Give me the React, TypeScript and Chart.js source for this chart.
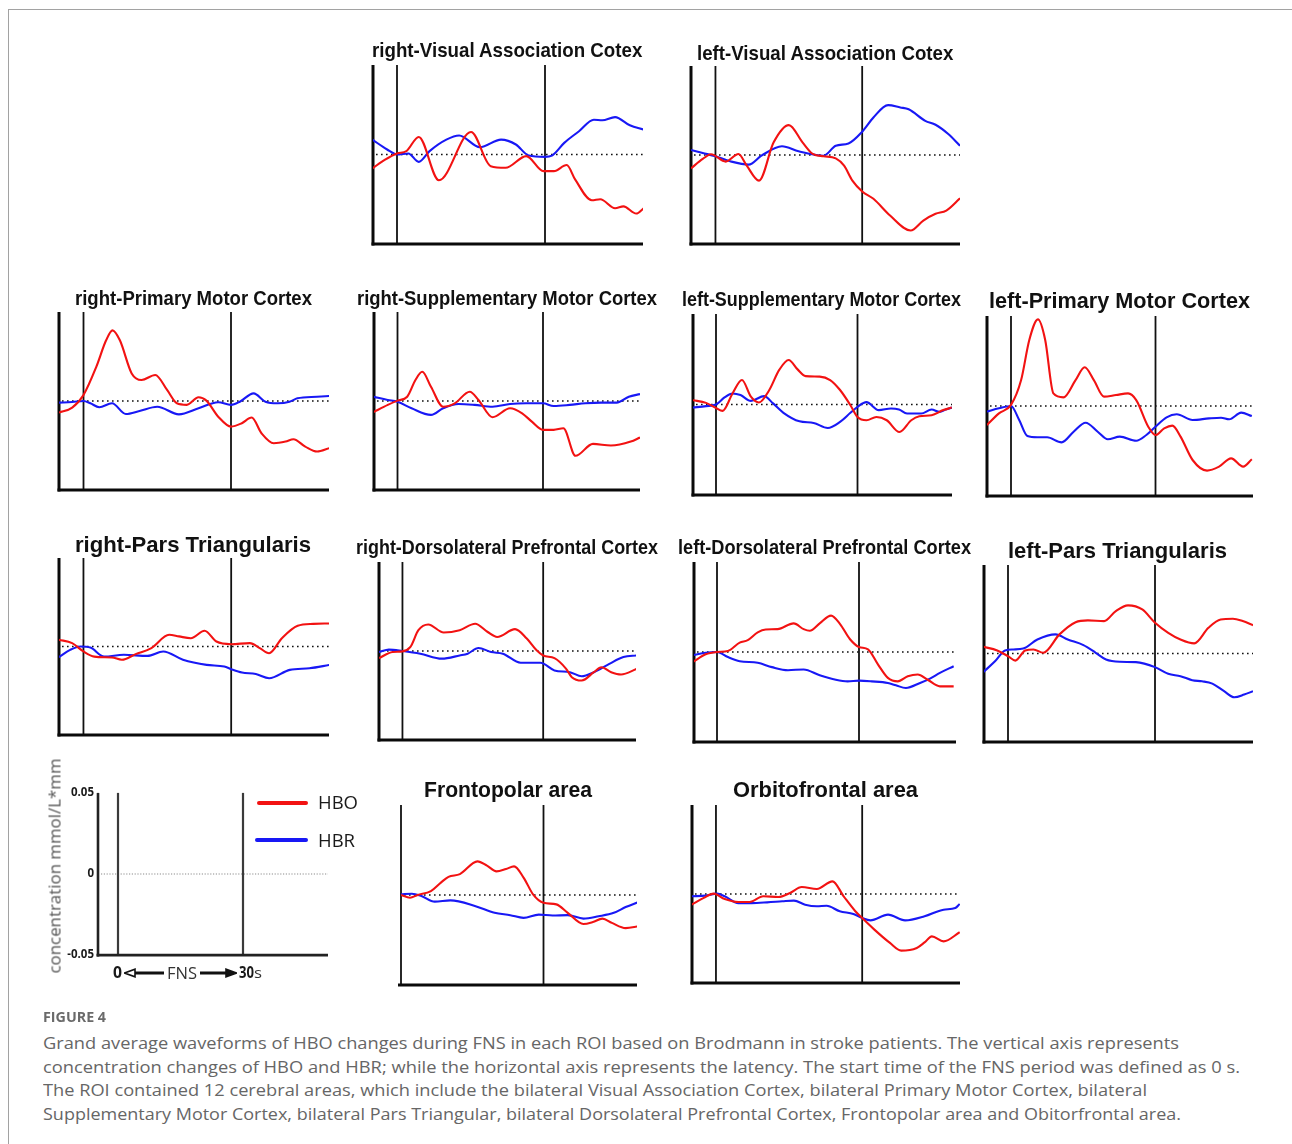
import React, { useEffect, useRef } from "react";
import { Chart, registerables } from "chart.js";

Chart.register(...registerables);

type Pt = [number, number];

// ---------------- data: [time (s), concentration (mmol/L*mm)] ----------------
const rVisHBO: Pt[] = [[-5,-0.0078],[-2.5,-0.003],[0,0.0006],[1.9,0.0019],[4.4,0.0098],[8.5,-0.0144],[15,0.0126],[19,-0.0065],[22,-0.0074],[26.2,-0.0009],[29.7,-0.0093],[31.8,-0.0093],[34.4,-0.0059],[36.1,-0.0139],[39.5,-0.0256],[41.2,-0.025],[44.2,-0.03],[45.9,-0.029],[48.5,-0.033],[50,-0.03]];
const rVisHBR: Pt[] = [[-5,0.0083],[-2,0.0028],[0,0],[2.3,0.0006],[4.4,-0.0041],[6.6,0.0019],[10,0.0083],[12.6,0.0106],[16.8,0.0041],[21.1,0.0083],[24.1,0.0056],[26.7,-0.0006],[30,-0.0013],[31.4,-0.0006],[33.9,0.0065],[36.9,0.013],[39.9,0.0194],[41.6,0.0191],[44.2,0.0209],[47.2,0.0163],[50,0.0139]];

const lVisHBO: Pt[] = [[-5,-0.0075],[-2.6,-0.0022],[-0.9,0.0004],[2.1,-0.0037],[4.7,0.0006],[6.4,-0.006],[8.9,-0.0144],[11.9,0.0071],[15,0.0168],[17.8,0.0071],[19.9,0.0006],[22.1,-0.0007],[24.6,-0.0019],[26.3,-0.006],[28,-0.0144],[30,-0.0205],[32.3,-0.0246],[35.7,-0.034],[39.9,-0.0424],[42.5,-0.0368],[45,-0.033],[47.2,-0.0312],[50,-0.0243]];
const lVisHBR: Pt[] = [[-5,0.0028],[-2.6,0.0011],[0,-0.0007],[3,-0.0035],[6.8,-0.0054],[9.4,-0.0004],[13.6,0.0049],[17,0.0021],[22.1,-0.0004],[24.6,0.0052],[27.2,0.0065],[30,0.0131],[32.3,0.0211],[35.3,0.028],[37.8,0.0267],[39.5,0.0257],[42.9,0.0192],[45,0.017],[47.6,0.0118],[50,0.0052]];

const rPMHBO: Pt[] = [[-5,-0.0065],[-2.3,-0.0037],[0,0.0034],[2.6,0.0192],[4.6,0.0341],[5.9,0.0397],[7.4,0.0341],[9.8,0.0155],[11.8,0.0118],[14.6,0.0146],[17,0.0062],[19,-0.0013],[21,-0.0022],[23.4,0.0021],[25,0.0002],[27.4,-0.0088],[30,-0.0144],[32.2,-0.0125],[34.2,-0.0093],[36.2,-0.0181],[38.7,-0.0237],[41.1,-0.0228],[42.7,-0.0215],[45.1,-0.0256],[47.5,-0.0284],[50,-0.0265]];
const rPMHBR: Pt[] = [[-5,-0.0009],[-2.3,-0.0006],[0,0],[1.4,-0.0013],[3.2,-0.0035],[5.8,-0.0013],[8.6,-0.0073],[11.4,-0.0056],[15,-0.0032],[19.4,-0.0075],[23.4,-0.0041],[27.4,-0.0007],[30,-0.0022],[31.8,-0.0004],[34.6,0.0043],[37,-0.0004],[39.5,-0.0013],[41.9,-0.0004],[43.5,0.0015],[47.5,0.0024],[50,0.0028]];

const rSMHBO: Pt[] = [[-5,-0.0063],[-2,-0.0022],[0,0.0002],[2,0.0024],[3.7,0.0118],[5.1,0.0164],[6.9,0.008],[9.4,-0.0032],[11.8,-0.0013],[14.9,0.0052],[16.7,0.0006],[19.6,-0.0091],[23.2,-0.0041],[25.7,-0.0069],[27.7,-0.0116],[30,-0.0162],[32.2,-0.0162],[34.2,-0.0153],[36.7,-0.0308],[40.3,-0.0241],[44,-0.025],[48.1,-0.0228],[50,-0.0205]];
const rSMHBR: Pt[] = [[-5,0.0024],[-2,0.0006],[0,-0.0004],[2.9,-0.0041],[6.9,-0.0078],[9.4,-0.0041],[12.6,-0.0017],[15.9,-0.0022],[19.6,-0.0032],[23.2,-0.0017],[26.5,-0.0013],[30,-0.0013],[32.2,-0.0028],[35.5,-0.0022],[38.7,-0.0013],[42,-0.0009],[45.2,-0.0009],[47.7,0.0024],[50,0.0039]];

const lSMHBO: Pt[] = [[-5,0.0024],[-2.1,0.0009],[0,-0.0019],[1.4,-0.0035],[3.5,0.0061],[5.5,0.0135],[7.4,0.0043],[9.1,0.0011],[11.3,0.008],[13.4,0.0191],[15.4,0.0246],[17.3,0.0194],[19,0.0157],[22,0.0154],[24.2,0.0135],[26.3,0.008],[28.5,-0.0004],[30,-0.0069],[31.9,-0.0087],[34,-0.0069],[36.2,-0.0087],[38.9,-0.0152],[41.4,-0.0087],[43.1,-0.0065],[45.7,-0.0059],[48.2,-0.0031],[50,-0.0017]];
const lSMHBR: Pt[] = [[-5,-0.0017],[-2.1,-0.0009],[0,0],[1.8,0.0039],[3.5,0.0061],[5.2,0.0052],[7.4,0.002],[10.2,0.0046],[12.1,0.0006],[14.3,-0.0046],[17.7,-0.0093],[20.7,-0.0102],[23.7,-0.013],[26.3,-0.0096],[28.5,-0.0046],[30,-0.0013],[31.9,0.0013],[34.5,-0.0031],[37.1,-0.0022],[38.8,-0.0028],[40.5,-0.005],[43.5,-0.005],[45.7,-0.0028],[47.4,-0.0041],[48.7,-0.0028],[50,-0.0017]];

const lPMHBO: Pt[] = [[-5,-0.0106],[-2.5,-0.0041],[0,0.0006],[2.1,0.0144],[3.8,0.0367],[5.6,0.0481],[7.1,0.0367],[8.8,0.007],[10.9,0.0048],[13.4,0.0144],[15.3,0.0215],[17.2,0.0144],[19.3,0.0052],[21.8,0.0061],[24.3,0.007],[26,0.0033],[28.5,-0.0115],[30,-0.0161],[31.8,-0.0124],[33.5,-0.0109],[35.2,-0.017],[37.7,-0.03],[40.7,-0.0359],[43.2,-0.0337],[45.7,-0.0291],[48.2,-0.0337],[50,-0.0296]];
const lPMHBR: Pt[] = [[-5,-0.0031],[-2.5,-0.0013],[0,0],[1.7,-0.0078],[3.4,-0.0167],[5.5,-0.0174],[7.5,-0.0174],[10.5,-0.0202],[13,-0.0143],[15.5,-0.0093],[18,-0.0143],[20.1,-0.0185],[22.6,-0.017],[26,-0.0193],[28.1,-0.0161],[30,-0.0115],[32.3,-0.0063],[34.4,-0.0046],[37.7,-0.0078],[41.1,-0.0069],[43.6,-0.0065],[45.3,-0.0074],[47.8,-0.0037],[50,-0.0056]];

const rPTHBO: Pt[] = [[-5,0.0038],[-2.3,0.0019],[0,-0.0028],[2.2,-0.0057],[5.8,-0.0062],[7.8,-0.0075],[10.6,-0.0043],[13.8,-0.0009],[17.4,0.0066],[19.4,0.0057],[21.8,0.0047],[24.6,0.0089],[27,0.0028],[30,0.0013],[33.8,0.0019],[35.8,-0.0009],[37.7,-0.0038],[40.3,0.0047],[43.5,0.0117],[46.7,0.0128],[50,0.013]];
const rPTHBR: Pt[] = [[-5,-0.006],[-2.7,-0.0019],[-0.6,0],[1.4,-0.0006],[4.2,-0.0057],[8.2,-0.0047],[13,-0.0053],[16.2,-0.0028],[20.2,-0.0075],[25,-0.0104],[28.6,-0.0113],[30,-0.0128],[32.2,-0.0147],[35,-0.0155],[37.7,-0.0179],[41.9,-0.0132],[45.9,-0.0123],[50,-0.0104]];

const rDLHBO: Pt[] = [[-5,-0.004],[-2.1,-0.0006],[0,-0.0002],[1.7,0.0023],[3.4,0.0117],[5.5,0.0149],[8.8,0.0104],[12.2,0.0117],[15.5,0.0153],[18.1,0.0108],[20.2,0.0079],[24,0.0123],[26.5,0.007],[28.6,0.0004],[30,-0.0025],[32.4,-0.004],[34.9,-0.01],[36.1,-0.0147],[38.2,-0.0166],[40.8,-0.0119],[42.4,-0.0091],[44.5,-0.0119],[46.6,-0.0132],[50,-0.01]];
const rDLHBR: Pt[] = [[-5,-0.0006],[-2.9,0.0008],[0,0],[3.8,-0.0015],[8.4,-0.0043],[12.2,-0.0025],[13.9,-0.0015],[16.2,0.0017],[18.9,-0.0006],[21.4,-0.0015],[25.2,-0.0066],[29.4,-0.0066],[32.4,-0.0109],[35.7,-0.0119],[38.2,-0.0142],[40.8,-0.0119],[44.1,-0.0072],[47.1,-0.0034],[50,-0.0025]];

const lDLHBO: Pt[] = [[-5,-0.0054],[-2.4,-0.0013],[0,0],[2.3,0.0006],[4.8,0.0052],[6.5,0.0066],[8.6,0.0109],[10.3,0.0125],[12.8,0.0127],[16.2,0.0159],[18.3,0.0127],[19.6,0.0118],[21.7,0.0159],[24.1,0.0202],[26,0.0155],[28.1,0.0071],[30,0.0028],[31.9,0.0015],[34,-0.0069],[36.1,-0.0144],[38.2,-0.0163],[40.3,-0.0135],[42.4,-0.0125],[44.5,-0.0154],[47.1,-0.0191],[50,-0.0191]];
const lDLHBR: Pt[] = [[-5,-0.0017],[-2.4,-0.0004],[0,0],[2.3,-0.0028],[4.8,-0.0051],[8.6,-0.006],[11.6,-0.0084],[15,-0.0101],[18.3,-0.0097],[21.7,-0.0129],[25.1,-0.0154],[27.6,-0.0163],[30,-0.0159],[32.7,-0.0163],[36.1,-0.0172],[37.8,-0.0185],[39.9,-0.02],[42.9,-0.0172],[45,-0.0148],[47.1,-0.0116],[50,-0.0079]];

const lPTHBO: Pt[] = [[-5,0.0038],[-2.2,0.0017],[0,-0.0015],[1.5,-0.004],[3.5,0.0017],[5.2,0.0023],[7.2,0.0004],[10.5,0.0108],[13.8,0.0177],[16.3,0.0187],[19.6,0.0183],[22,0.024],[24.5,0.0272],[27.4,0.0249],[30,0.0174],[32.7,0.0117],[35.2,0.0079],[38,0.0057],[40.9,0.0145],[43.4,0.0192],[45.9,0.0196],[47.9,0.0183],[50,0.016]];
const lPTHBR: Pt[] = [[-5,-0.0104],[-2.6,-0.0043],[-0.6,0.0017],[1.1,0.0023],[3.1,0.0028],[6,0.0079],[9.7,0.0108],[12.2,0.0079],[15.4,0.0047],[17.9,0.0004],[20,-0.0034],[22.8,-0.0047],[26.1,-0.0049],[30,-0.0077],[32.7,-0.0115],[35.2,-0.0128],[37.6,-0.0151],[39.6,-0.0157],[41.7,-0.017],[44.1,-0.0213],[46.2,-0.0247],[48.2,-0.0232],[50,-0.0213]];

const fpHBO: Pt[] = [[0,0],[1.9,-0.0015],[3.5,0],[6.3,0.0022],[8.4,0.0069],[10,0.0101],[12.4,0.0116],[16.1,0.0187],[18.1,0.0163],[20.1,0.0131],[22.1,0.0144],[23.8,0.0159],[25.8,0.0097],[27.8,0.0004],[30,-0.0043],[32.7,-0.0052],[35.1,-0.0099],[38.4,-0.0161],[40.4,-0.015],[42.4,-0.0131],[44.4,-0.0155],[47.3,-0.0184],[50,-0.0174]];
const fpHBR: Pt[] = [[0,0.0004],[2.3,0.0007],[4.3,-0.0006],[7.1,-0.0037],[10.4,-0.003],[15.7,-0.0062],[19.7,-0.0099],[23,-0.0112],[25.8,-0.0127],[29,-0.0109],[31.9,-0.0114],[35.1,-0.0112],[38.4,-0.0131],[41.6,-0.0118],[44.8,-0.0099],[47.3,-0.0067],[50,-0.0039]];

const ofHBO: Pt[] = [[-5,-0.006],[-2.5,-0.0022],[-0.5,0.0002],[1.8,-0.0028],[4.6,-0.0045],[6.9,-0.0045],[9.7,-0.0013],[12.8,-0.0017],[15.2,0.0006],[17.6,0.0039],[20.7,0.0028],[23.9,0.0071],[26.2,-0.0013],[28.6,-0.0097],[30,-0.0135],[32.5,-0.02],[35.7,-0.0275],[38,-0.0318],[41.2,-0.0303],[42.8,-0.0272],[44.3,-0.0238],[46.7,-0.0266],[50,-0.0215]];
const ofHBR: Pt[] = [[-5,-0.0013],[-2.1,-0.0009],[0.2,0.0002],[1.8,-0.0013],[4.6,-0.0051],[7.3,-0.0051],[10.5,-0.0047],[13.6,-0.0041],[16,-0.0037],[18.3,-0.006],[20.7,-0.0069],[22.7,-0.0066],[25.4,-0.0097],[28.2,-0.0112],[30,-0.0135],[31.7,-0.0148],[35.3,-0.0116],[38.8,-0.0148],[42.8,-0.0125],[46.7,-0.0088],[49.1,-0.0079],[50,-0.0056]];

const STIM_START = 0;
const STIM_END = 30;
const Y_MIN = -0.05;
const Y_MAX = 0.05;
const KEY_TICKS = [-0.05, 0, 0.05];

const CAPTION_LINES = [
  "Grand average waveforms of HBO changes during FNS in each ROI based on Brodmann in stroke patients. The vertical axis represents",
  "concentration changes of HBO and HBR; while the horizontal axis represents the latency. The start time of the FNS period was defined as 0 s.",
  "The ROI contained 12 cerebral areas, which include the bilateral Visual Association Cortex, bilateral Primary Motor Cortex, bilateral",
  "Supplementary Motor Cortex, bilateral Pars Triangular, bilateral Dorsolateral Prefrontal Cortex, Frontopolar area and Obitorfrontal area.",
];

// ---------------- layout & style ----------------
const HBO_COLOR = "#f21212";
const HBR_COLOR = "#1818f5";
const PAD = 8;

interface PanelSpec {
  title: string;
  hbo: Pt[];
  hbr: Pt[];
  left: number; onset: number; end: number; right: number; top: number; bottom: number;
  tx1: number; tx2: number; tcy: number; tsize: number;
  leftAxis: boolean;
}

const PANELS: PanelSpec[] = [
  { title: "right-Visual Association Cotex", hbo: rVisHBO, hbr: rVisHBR, left: 373, onset: 397, end: 545, right: 643, top: 65, bottom: 244, tx1: 372, tx2: 643, tcy: 50, tsize: 20.5, leftAxis: true },
  { title: "left-Visual Association Cotex", hbo: lVisHBO, hbr: lVisHBR, left: 690.5, onset: 715, end: 862, right: 960, top: 66, bottom: 244, tx1: 697, tx2: 954, tcy: 53, tsize: 20.5, leftAxis: true },
  { title: "right-Primary Motor Cortex", hbo: rPMHBO, hbr: rPMHBR, left: 59, onset: 83.5, end: 231, right: 329, top: 312, bottom: 490, tx1: 75, tx2: 312, tcy: 298, tsize: 20, leftAxis: true },
  { title: "right-Supplementary Motor Cortex", hbo: rSMHBO, hbr: rSMHBR, left: 374, onset: 397.5, end: 543, right: 640, top: 312, bottom: 490, tx1: 357, tx2: 657, tcy: 298, tsize: 20, leftAxis: true },
  { title: "left-Supplementary Motor Cortex", hbo: lSMHBO, hbr: lSMHBR, left: 693, onset: 716, end: 857.5, right: 952, top: 314, bottom: 495, tx1: 682, tx2: 961, tcy: 299.5, tsize: 19.5, leftAxis: true },
  { title: "left-Primary Motor Cortex", hbo: lPMHBO, hbr: lPMHBR, left: 987, onset: 1011, end: 1155.5, right: 1253, top: 316, bottom: 496, tx1: 989, tx2: 1250, tcy: 301, tsize: 22, leftAxis: true },
  { title: "right-Pars Triangularis", hbo: rPTHBO, hbr: rPTHBR, left: 58.5, onset: 83, end: 231, right: 329, top: 558, bottom: 735, tx1: 75, tx2: 311, tcy: 545, tsize: 22, leftAxis: true },
  { title: "right-Dorsolateral Prefrontal Cortex", hbo: rDLHBO, hbr: rDLHBR, left: 378.5, onset: 402, end: 543, right: 636, top: 562, bottom: 740, tx1: 356, tx2: 658, tcy: 548, tsize: 19.5, leftAxis: true },
  { title: "left-Dorsolateral Prefrontal Cortex", hbo: lDLHBO, hbr: lDLHBR, left: 694, onset: 717, end: 859, right: 956, top: 562, bottom: 742, tx1: 678, tx2: 971, tcy: 547.5, tsize: 19.5, leftAxis: true },
  { title: "left-Pars Triangularis", hbo: lPTHBO, hbr: lPTHBR, left: 983.5, onset: 1007.5, end: 1154.5, right: 1252.5, top: 565, bottom: 742, tx1: 1008, tx2: 1227, tcy: 551, tsize: 22, leftAxis: true },
  { title: "Frontopolar area", hbo: fpHBO, hbr: fpHBR, left: 401, onset: 401, end: 543.5, right: 637, top: 805, bottom: 985, tx1: 424, tx2: 592, tcy: 789.5, tsize: 22, leftAxis: false },
  { title: "Orbitofrontal area", hbo: ofHBO, hbr: ofHBR, left: 691.5, onset: 715.5, end: 862, right: 960, top: 805, bottom: 983, tx1: 733, tx2: 918, tcy: 790, tsize: 22, leftAxis: true },
];

const KEY = { left: 97.5, onset: 117.5, end: 242.5, right: 327.5, top: 790, bottom: 958 };
const KEY_AXIS_W = 44;

// ---------------- text helpers ----------------
const METRICS: Record<string, { asc: number; cap: number }> = {
  "Liberation Sans": { asc: 0.8465, cap: 0.716 },
  "Open Sans": { asc: 0.888, cap: 0.714 },
};
let measureCtx: CanvasRenderingContext2D | null = null;
function textWidth(text: string, font: string): number {
  if (!measureCtx) measureCtx = document.createElement("canvas").getContext("2d");
  measureCtx!.font = font;
  return measureCtx!.measureText(text).width;
}

function FitText(props: { text: string; x1: number; x2: number; cy: number; size: number; family: string; weight?: number; color?: string }) {
  const { text, x1, x2, cy, size, family, weight = 400, color = "#111" } = props;
  const m = METRICS[family];
  const w = textWidth(text, `${weight} ${size}px "${family}"`);
  const sx = (x2 - x1) / w;
  const top = cy + (m.cap * size) / 2 - m.asc * size;
  return (
    <div
      style={{
        position: "absolute", left: x1, top, fontFamily: `"${family}"`, fontSize: size, fontWeight: weight,
        lineHeight: `${size}px`, whiteSpace: "pre", color, transform: `scaleX(${sx})`, transformOrigin: "0 0",
      }}
    >
      {text}
    </div>
  );
}

function RotText(props: { text: string; cx: number; cy: number; len: number; size: number; family: string; color: string }) {
  const { text, cx, cy, len, size, family, color } = props;
  const w = textWidth(text, `400 ${size}px "${family}"`);
  const sx = len / w;
  return (
    <div
      style={{
        position: "absolute", left: cx, top: cy, fontFamily: `"${family}"`, fontSize: size, lineHeight: `${size}px`,
        whiteSpace: "pre", color, transform: `translate(-50%, -50%) rotate(-90deg) scaleX(${sx})`, transformOrigin: "50% 50%",
      }}
    >
      {text}
    </div>
  );
}

// ---------------- chart helpers ----------------
function framePlugin(leftAxis: boolean, key: boolean) {
  return {
    id: "frame",
    beforeDatasetsDraw(chart: any) {
      const { ctx } = chart;
      const x = chart.scales.x;
      const y = chart.scales.y;
      const xl = x.getPixelForValue(x.min);
      const xr = x.getPixelForValue(x.max);
      const yt = y.getPixelForValue(Y_MAX);
      const yb = y.getPixelForValue(Y_MIN);
      const y0 = y.getPixelForValue(0);
      ctx.save();
      // zero reference (dotted)
      ctx.strokeStyle = key ? "#8c8c8c" : "#111";
      ctx.lineWidth = key ? 1.2 : 1.6;
      ctx.setLineDash(key ? [1.2, 1.6] : [1.6, 3.4]);
      ctx.beginPath();
      ctx.moveTo(xl + 3, y0);
      ctx.lineTo(xr, y0);
      ctx.stroke();
      ctx.setLineDash([]);
      // stimulation onset / offset
      ctx.strokeStyle = key ? "#3a3a3a" : "#111";
      ctx.lineWidth = key ? 2.2 : 1.8;
      for (const t of [STIM_START, STIM_END]) {
        const px = x.getPixelForValue(t);
        ctx.beginPath();
        ctx.moveTo(px, yt);
        ctx.lineTo(px, yb);
        ctx.stroke();
      }
      // axes
      ctx.strokeStyle = key ? "#222" : "#0a0a0a";
      ctx.lineWidth = key ? 2.6 : 3;
      if (leftAxis) {
        ctx.beginPath();
        ctx.moveTo(xl, yt);
        ctx.lineTo(xl, yb + 1.5);
        ctx.stroke();
      }
      ctx.beginPath();
      ctx.moveTo(xl - (leftAxis ? 1.5 : 3), yb);
      ctx.lineTo(xr, yb);
      ctx.stroke();
      ctx.restore();
    },
  };
}

const toXY = (pts: Pt[]) => pts.map(([x, y]) => ({ x, y }));

function Panel({ p }: { p: PanelSpec }) {
  const ref = useRef<HTMLCanvasElement>(null);
  const w = p.right - p.left + 2 * PAD;
  const h = p.bottom - p.top + 2 * PAD;
  useEffect(() => {
    const pps = (p.end - p.onset) / (STIM_END - STIM_START);
    const xMin = STIM_START + (p.left - p.onset) / pps;
    const xMax = STIM_START + (p.right - p.onset) / pps;
    const line = (label: string, pts: Pt[], color: string) => ({
      label, data: toXY(pts), borderColor: color, borderWidth: 2.1, pointRadius: 0,
      cubicInterpolationMode: "monotone" as const, fill: false,
    });
    const chart = new Chart(ref.current!, {
      type: "line",
      data: { datasets: [line("HBO", p.hbo, HBO_COLOR), line("HBR", p.hbr, HBR_COLOR)] },
      options: {
        animation: false, responsive: false, devicePixelRatio: 1, events: [],
        layout: { padding: PAD },
        plugins: { legend: { display: false }, tooltip: { enabled: false }, title: { display: false } },
        scales: {
          x: { type: "linear", min: xMin, max: xMax, display: false },
          y: { type: "linear", min: Y_MIN, max: Y_MAX, display: false },
        },
      },
      plugins: [framePlugin(p.leftAxis, false)],
    });
    return () => chart.destroy();
  }, []);
  return (
    <canvas ref={ref} width={w} height={h}
      style={{ position: "absolute", left: p.left - PAD, top: p.top - PAD, width: w, height: h }} />
  );
}

function KeyPanel() {
  const ref = useRef<HTMLCanvasElement>(null);
  const w = KEY.right - KEY.left + KEY_AXIS_W + PAD;
  const h = KEY.bottom - KEY.top + 2 * PAD;
  useEffect(() => {
    const pps = (KEY.end - KEY.onset) / (STIM_END - STIM_START);
    const xMin = STIM_START + (KEY.left - KEY.onset) / pps;
    const xMax = STIM_START + (KEY.right - KEY.onset) / pps;
    const chart = new Chart(ref.current!, {
      type: "line",
      data: { datasets: [] },
      options: {
        animation: false, responsive: false, devicePixelRatio: 1, events: [],
        layout: { padding: { left: 0, right: PAD, top: PAD, bottom: PAD } },
        plugins: { legend: { display: false }, tooltip: { enabled: false } },
        scales: {
          x: { type: "linear", min: xMin, max: xMax, display: false },
          y: {
            type: "linear", min: Y_MIN, max: Y_MAX, display: true,
            grid: { display: false, drawTicks: false }, border: { display: false },
            afterFit: (axis: any) => { axis.width = KEY_AXIS_W; },
            afterBuildTicks: (axis: any) => { axis.ticks = KEY_TICKS.map((v) => ({ value: v })); },
            ticks: {
              padding: 4, color: "#1a1a1a",
              font: { family: "Open Sans", size: 11.5, weight: "bold" },
              callback: (v: any) => (Number(v) === 0 ? "0" : Number(v).toFixed(2)),
            },
          },
        },
      },
      plugins: [framePlugin(true, true)],
    });
    return () => chart.destroy();
  }, []);
  return (
    <canvas ref={ref} width={w} height={h}
      style={{ position: "absolute", left: KEY.left - KEY_AXIS_W, top: KEY.top - PAD, width: w, height: h }} />
  );
}

function Arrow({ x1, x2, y, dir }: { x1: number; x2: number; y: number; dir: "left" | "right" }) {
  const head = 11;
  const len = x2 - x1;
  const poly = dir === "left"
    ? `0.5,6 ${head},2.2 ${head},9.8`
    : `${len - 0.5},6 ${len - head},2.2 ${len - head},9.8`;
  const shaftX = dir === "left" ? head : 0;
  return (
    <svg width={len} height={12} style={{ position: "absolute", left: x1, top: y - 6 }}>
      <rect x={shaftX} y={4.5} width={len - head} height={3} fill="#111" />
      <polygon points={poly} fill={dir === "left" ? "#fff" : "#111"} stroke="#111" strokeWidth={1.6} />
    </svg>
  );
}

export default function App() {
  return (
    <div style={{ position: "absolute", left: 0, top: 0, width: 1292, height: 1144, background: "#fff", overflow: "hidden" }}>
      <div style={{ position: "absolute", left: 8, top: 9, right: 0, bottom: -2, borderTop: "1.5px solid #a2a2a2", borderLeft: "1.5px solid #a2a2a2" }} />

      {PANELS.map((p) => (
        <Panel key={p.title} p={p} />
      ))}
      {PANELS.map((p) => (
        <FitText key={"t" + p.title} text={p.title} x1={p.tx1} x2={p.tx2} cy={p.tcy} size={p.tsize} family="Liberation Sans" weight={700} color="#111" />
      ))}

      {/* key panel */}
      <KeyPanel />
      <RotText text="concentration mmol/L*mm" cx={54} cy={865.5} len={215} size={17} family="Open Sans" color="#555" />
      <div style={{ position: "absolute", left: 257, top: 801, width: 51, height: 4, background: HBO_COLOR, borderRadius: 2 }} />
      <div style={{ position: "absolute", left: 255, top: 838, width: 53, height: 4, background: HBR_COLOR, borderRadius: 2 }} />
      <FitText text="HBO" x1={318} x2={358} cy={803} size={19} family="Open Sans" color="#1a1a1a" />
      <FitText text="HBR" x1={318} x2={355} cy={841} size={19} family="Open Sans" color="#1a1a1a" />
      <FitText text="0" x1={112.5} x2={121.5} cy={972.5} size={16} family="Open Sans" weight={700} color="#1a1a1a" />
      <Arrow x1={124} x2={164} y={973} dir="left" />
      <FitText text="FNS" x1={167} x2={197} cy={973} size={16} family="Open Sans" color="#333" />
      <Arrow x1={200} x2={237} y={973} dir="right" />
      <FitText text="30" x1={238.5} x2={253.5} cy={972.5} size={16} family="Open Sans" weight={700} color="#1a1a1a" />
      <FitText text="s" x1={254} x2={262} cy={973.5} size={14} family="Open Sans" color="#333" />

      {/* caption */}
      <FitText text="FIGURE 4" x1={43} x2={106} cy={1017.2} size={15} family="Open Sans" weight={700} color="#6a6a6a" />
      <FitText text={CAPTION_LINES[0]} x1={43} x2={1179} cy={1042.8} size={17} family="Open Sans" color="#666" />
      <FitText text={CAPTION_LINES[1]} x1={43} x2={1240} cy={1066.6} size={17} family="Open Sans" color="#666" />
      <FitText text={CAPTION_LINES[2]} x1={43} x2={1147} cy={1090.4} size={17} family="Open Sans" color="#666" />
      <FitText text={CAPTION_LINES[3]} x1={43} x2={1181} cy={1114.2} size={17} family="Open Sans" color="#666" />
    </div>
  );
}
